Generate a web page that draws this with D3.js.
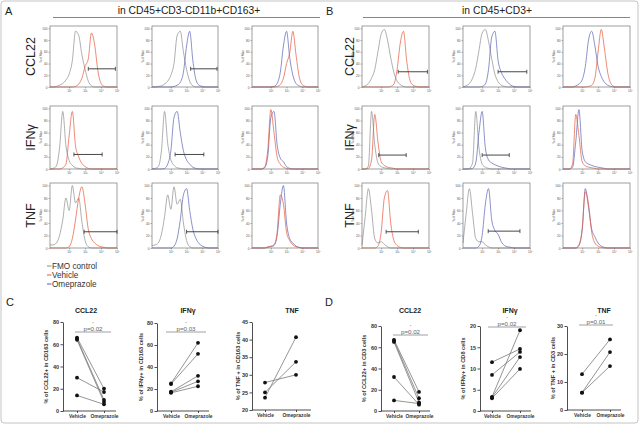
<!DOCTYPE html>
<html>
<head>
<meta charset="utf-8">
<script src="https://cdn.jsdelivr.net/npm/d3@7"></script>
<style>
  body { margin: 0; background: #fff; }
  svg { display: block; font-family: Arial, "Liberation Sans", sans-serif; }
</style>
</head>
<body>
<script>
// flow histograms: % of max sampled on a log10 grid
const HIST_X = [0.8, 1.0, 1.2, 1.4, 1.6, 1.8, 2.0, 2.2, 2.4, 2.6, 2.8, 3.0, 3.2, 3.4, 3.6, 3.8, 4.0, 4.2, 4.4, 4.6, 4.8, 5.0]
const HIST_TICKS = [2, 3, 4, 5]
const MAX_TICKS = [0, 20, 40, 60, 80, 100]
const ROW_LABELS = ['CCL22', 'IFNγ', 'TNF']

// A: CD45+CD3-CD11b+CD163+
const A_CCL22_1_FMO = [0,0,1,3,6,12,22,45,95,88,55,30,10,2,0,0,0,0,0,0,0,0]
const A_CCL22_1_VEH = [0,0,0,0,0,0,0,0,1,5,15,35,48,92,72,28,6,1,0,0,0,0]
const A_CCL22_2_FMO = [0,0,1,2,5,10,20,40,88,95,60,30,10,2,0,0,0,0,0,0,0,0]
const A_CCL22_2_OME = [0,0,0,0,0,0,0,1,3,8,25,70,95,45,12,3,1,0,0,0,0,0]
const A_CCL22_3_VEH = [0,0,0,0,0,0,0,0,1,4,15,40,58,95,55,18,4,1,0,0,0,0]
const A_CCL22_3_OME = [0,0,0,0,0,0,0,1,6,25,70,95,50,20,6,2,0,0,0,0,0,0]
const A_CCL22_GATES = [[3.2, 4.9, 31], [3.26, 4.94, 31]]

const A_IFNG_1_FMO = [0,1,5,35,95,38,14,6,2,1,0,0,0,0,0,0,0,0,0,0,0,0]
const A_IFNG_1_VEH = [0,0,0,0,2,8,55,95,38,20,9,4,1,0,0,0,0,0,0,0,0,0]
const A_IFNG_2_FMO = [0,1,4,30,95,42,15,6,2,1,0,0,0,0,0,0,0,0,0,0,0,0]
const A_IFNG_2_OME = [0,0,0,0,1,8,30,85,95,60,30,15,8,3,1,0,0,0,0,0,0,0]
const A_IFNG_3_VEH = [0,0,0,0,3,30,98,60,20,8,3,1,0,0,0,0,0,0,0,0,0,0]
const A_IFNG_3_OME = [0,0,0,0,2,20,85,95,40,18,12,4,1,0,0,0,0,0,0,0,0,0]
const A_IFNG_GATES = [[2.3, 4.07, 24], [2.27, 4.1, 24]]

const A_TNF_1_FMO = [5,5,8,20,45,80,60,100,72,80,42,12,2,0,0,0,0,0,0,0,0,0]
const A_TNF_1_VEH = [0,0,0,0,0,0,2,15,45,80,98,70,30,15,8,4,2,1,0,0,0,0]
const A_TNF_2_FMO = [4,5,8,22,50,85,62,98,70,78,40,12,2,0,0,0,0,0,0,0,0,0]
const A_TNF_2_OME = [0,0,0,0,0,0,0,3,15,45,85,95,60,30,15,7,3,1,0,0,0,0]
const A_TNF_3_VEH = [0,0,0,0,0,2,3,5,25,85,70,25,12,5,2,1,0,0,0,0,0,0]
const A_TNF_3_OME = [0,0,0,0,0,1,2,4,20,70,100,40,15,8,3,1,0,0,0,0,0,0]
const A_TNF_GATES = [[2.94, 5.0, 26], [3.0, 5.0, 26]]

// B: CD45+CD3+
const B_CCL22_1_FMO = [0,2,6,15,30,60,90,98,80,50,25,10,4,1,0,0,0,0,0,0,0,0]
const B_CCL22_1_VEH = [0,0,0,0,0,0,0,0,0,1,5,30,75,95,45,12,3,1,0,0,0,0]
const B_CCL22_2_FMO = [0,2,6,15,32,62,92,98,78,48,22,9,3,1,0,0,0,0,0,0,0,0]
const B_CCL22_2_OME = [0,0,0,0,0,0,1,5,30,85,95,45,25,15,8,3,1,0,0,0,0,0]
const B_CCL22_3_VEH = [0,0,0,0,0,0,0,0,1,3,15,60,98,65,25,6,1,0,0,0,0,0]
const B_CCL22_3_OME = [0,0,0,0,2,5,12,35,80,95,70,35,18,8,3,1,0,0,0,0,0,0]
const B_CCL22_GATES = [[3.07, 4.9, 26], [3.0, 4.8, 26]]

const B_IFNG_1_FMO = [0,0,5,95,40,10,4,2,1,0,0,0,0,0,0,0,0,0,0,0,0,0]
const B_IFNG_1_VEH = [0,0,1,15,90,45,12,6,3,2,1,0,0,0,0,0,0,0,0,0,0,0]
const B_IFNG_2_FMO = [0,0,1,10,95,35,8,3,1,0,0,0,0,0,0,0,0,0,0,0,0,0]
const B_IFNG_2_OME = [0,0,0,1,10,60,95,35,15,10,7,5,3,2,1,0,0,0,0,0,0,0]
const B_IFNG_3_VEH = [0,0,0,8,90,55,12,5,3,2,1,0,0,0,0,0,0,0,0,0,0,0]
const B_IFNG_3_OME = [0,0,0,3,45,98,30,12,8,6,4,3,2,1,0,0,0,0,0,0,0,0]
const B_IFNG_GATES = [[1.85, 3.57, 23], [2.0, 3.7, 23]]

const B_TNF_1_FMO = [5,50,95,60,15,8,10,6,2,0,0,0,0,0,0,0,0,0,0,0,0,0]
const B_TNF_1_VEH = [0,0,0,0,0,3,25,80,92,40,12,4,1,0,0,0,0,0,0,0,0,0]
const B_TNF_2_FMO = [8,55,95,55,15,10,10,5,2,0,0,0,0,0,0,0,0,0,0,0,0,0]
const B_TNF_2_OME = [0,0,0,0,0,3,20,70,95,45,28,22,10,4,2,1,0,0,0,0,0,0]
const B_TNF_3_VEH = [0,0,0,0,0,5,30,90,70,25,8,3,1,0,0,0,0,0,0,0,0,0]
const B_TNF_3_OME = [0,0,0,0,0,4,28,95,65,30,18,8,3,1,0,0,0,0,0,0,0,0]
const B_TNF_GATES = [[2.31, 4.33, 26], [2.38, 4.37, 27]]

// paired dot plots (C: CD163 cells, D: CD3/CD8 cells)
const GROUPS = ['Vehicle', 'Omeprazole']
const C_CCL22_VEH = [66, 65, 64, 30, 14]
const C_CCL22_OME = [20, 10, 8, 17, 6]
const C_IFNG_VEH = [25, 24.5, 17.5, 17, 16.5]
const C_IFNG_OME = [62, 52, 32, 27, 22.5]
const C_TNF_VEH = [27.8, 25, 23.5]
const C_TNF_OME = [30, 33.7, 40.7]
const D_CCL22_VEH = [67, 66, 65, 32, 10]
const D_CCL22_OME = [18, 12, 8, 6, 7]
const D_IFNG_VEH = [11.5, 8.5, 3.3, 3.2, 3.0]
const D_IFNG_OME = [14.6, 13.9, 19, 12.7, 9.9]
const D_TNF_VEH = [12.8, 6.2, 6.2]
const D_TNF_OME = [25.2, 20.7, 15.7]

const FMO = '#8c8c8c'
const VEH = '#e5583a'
const OME = '#5a62b4'

const WIDTH = 640
const HEIGHT = 427

const svg = d3.select('body')
  .append('svg')
  .attr('width', WIDTH)
  .attr('height', HEIGHT)

svg.append('rect')
  .attr('x', 1).attr('y', 1)
  .attr('width', 637).attr('height', 422)
  .attr('rx', 3)
  .attr('fill', 'none')
  .attr('stroke', '#c4c4c4')

function letter(t, x, y) {
  svg.append('text').attr('x', x).attr('y', y)
    .attr('font-size', 11).attr('fill', '#222').text(t)
}

letter('A', 5, 15)
letter('B', 326, 15)
letter('C', 6, 306)
letter('D', 325, 306)

// section headers
const headers = [
  { text: 'in CD45+CD3-CD11b+CD163+', cx: 189, x0: 53, x1: 320 },
  { text: 'in CD45+CD3+', cx: 497, x0: 363, x1: 630 },
]
headers.forEach(h => {
  svg.append('text').attr('x', h.cx).attr('y', 14)
    .attr('text-anchor', 'middle').attr('font-size', 10.3).attr('fill', '#222')
    .text(h.text)
  svg.append('line').attr('x1', h.x0).attr('x2', h.x1).attr('y1', 17.5).attr('y2', 17.5)
    .attr('stroke', '#666').attr('stroke-width', 0.8)
})

const ROW_Y = [[26, 87], [106, 169], [183, 248]]
const COLS_A = [[50, 117], [152, 218], [252, 318]]
const COLS_B = [[362, 429], [463, 530], [563, 630]]

const sections = [
  {
    cols: COLS_A, labelX: 30,
    rows: [
      { p: [[A_CCL22_1_FMO, FMO, A_CCL22_1_VEH, VEH], [A_CCL22_2_FMO, FMO, A_CCL22_2_OME, OME], [A_CCL22_3_OME, OME, A_CCL22_3_VEH, VEH]], gates: A_CCL22_GATES },
      { p: [[A_IFNG_1_FMO, FMO, A_IFNG_1_VEH, VEH], [A_IFNG_2_FMO, FMO, A_IFNG_2_OME, OME], [A_IFNG_3_OME, OME, A_IFNG_3_VEH, VEH]], gates: A_IFNG_GATES },
      { p: [[A_TNF_1_FMO, FMO, A_TNF_1_VEH, VEH], [A_TNF_2_FMO, FMO, A_TNF_2_OME, OME], [A_TNF_3_OME, OME, A_TNF_3_VEH, VEH]], gates: A_TNF_GATES },
    ]
  },
  {
    cols: COLS_B, labelX: 349,
    rows: [
      { p: [[B_CCL22_1_FMO, FMO, B_CCL22_1_VEH, VEH], [B_CCL22_2_FMO, FMO, B_CCL22_2_OME, OME], [B_CCL22_3_OME, OME, B_CCL22_3_VEH, VEH]], gates: B_CCL22_GATES },
      { p: [[B_IFNG_1_FMO, FMO, B_IFNG_1_VEH, VEH], [B_IFNG_2_FMO, FMO, B_IFNG_2_OME, OME], [B_IFNG_3_OME, OME, B_IFNG_3_VEH, VEH]], gates: B_IFNG_GATES },
      { p: [[B_TNF_1_FMO, FMO, B_TNF_1_VEH, VEH], [B_TNF_2_FMO, FMO, B_TNF_2_OME, OME], [B_TNF_3_OME, OME, B_TNF_3_VEH, VEH]], gates: B_TNF_GATES },
    ]
  },
]

const SUP = { 2: '²', 3: '³', 4: '⁴', 5: '⁵' }

function drawHist(x0, x1, y0, y1, curves, gate) {
  const g = svg.append('g')
  const x = d3.scaleLinear().domain([0.8, 5]).range([x0, x1])
  const y = d3.scaleLinear().domain([0, 104]).range([y1, y0])

  const line = d3.line()
    .x((d, i) => x(HIST_X[i]))
    .y(d => y(d))
    .curve(d3.curveMonotoneX)

  g.append('path').attr('d', line(curves[0]))
    .attr('fill', 'none').attr('stroke', curves[1]).attr('stroke-width', 0.7)
  g.append('path').attr('d', line(curves[2]))
    .attr('fill', 'none').attr('stroke', curves[3]).attr('stroke-width', 0.7)

  g.append('rect')
    .attr('x', x0).attr('y', y0)
    .attr('width', x1 - x0).attr('height', y1 - y0)
    .attr('fill', 'none').attr('stroke', '#777').attr('stroke-width', 0.7)

  const yAxis = g.append('g')
    .attr('transform', `translate(${x0},0)`)
    .call(d3.axisLeft(y).tickValues(MAX_TICKS).tickSize(1.5).tickPadding(1))
  const xAxis = g.append('g')
    .attr('transform', `translate(0,${y1})`)
    .call(d3.axisBottom(x).tickValues(HIST_TICKS).tickSize(1.5).tickPadding(1)
      .tickFormat(d => '10' + SUP[d]))
  ;[yAxis, xAxis].forEach(a => {
    a.select('.domain').remove()
    a.selectAll('line').attr('stroke', '#666').attr('stroke-width', 0.5)
    a.selectAll('text').attr('font-size', 3.2).attr('fill', '#555')
  })

  g.append('text')
    .attr('transform', `translate(${x0 - 8},${(y0 + y1) / 2}) rotate(-90)`)
    .attr('text-anchor', 'middle').attr('font-size', 3).attr('fill', '#555')
    .text('% of Max')

  if (gate) {
    const gy = y(gate[2])
    g.append('line')
      .attr('x1', x(gate[0])).attr('x2', x(gate[1]))
      .attr('y1', gy).attr('y2', gy)
      .attr('stroke', '#333').attr('stroke-width', 0.9)
    ;[gate[0], gate[1]].forEach(v => {
      g.append('line')
        .attr('x1', x(v)).attr('x2', x(v))
        .attr('y1', gy - 2).attr('y2', gy + 2)
        .attr('stroke', '#333').attr('stroke-width', 0.8)
    })
  }
}

sections.forEach(sec => {
  sec.rows.forEach((row, ri) => {
    const [y0, y1] = ROW_Y[ri]
    svg.append('text')
      .attr('transform', `translate(${sec.labelX + 5},${(y0 + y1) / 2}) rotate(-90)`)
      .attr('text-anchor', 'middle').attr('font-size', 12.5).attr('fill', '#222')
      .text(ROW_LABELS[ri])
    row.p.forEach((curves, ci) => {
      const [x0, x1] = sec.cols[ci]
      drawHist(x0, x1, y0, y1, curves, row.gates[ci])
    })
  })
})

// legend
const legend = [['FMO control', FMO], ['Vehicle', VEH], ['Omeprazole', OME]]
legend.forEach((d, i) => {
  const ly = 266 + i * 9
  svg.append('line').attr('x1', 47).attr('x2', 51.5).attr('y1', ly).attr('y2', ly)
    .attr('stroke', d[1]).attr('stroke-width', 1)
  svg.append('text').attr('x', 52).attr('y', ly + 3)
    .attr('font-size', 8.2).attr('fill', '#333').text(d[0])
})

// paired dot plots
const plots = [
  { title: 'CCL22', tx: 86, label: '% of CCL22+ in CD163 cells', veh: C_CCL22_VEH, ome: C_CCL22_OME,
    dom: [0, 80], ticks: [0, 20, 40, 60, 80], ax: 63, xEnd: 116, xv: 77, xo: 104, yb: 411, yt: 322, lx: 48,
    sig: { text: 'p=0.02', x0: 75, x1: 111, y: 332 } },
  { title: 'IFNγ', tx: 188, label: '% of IFNγ+ in CD163 cells', veh: C_IFNG_VEH, ome: C_IFNG_OME,
    dom: [0, 80], ticks: [0, 20, 40, 60, 80], ax: 157, xEnd: 209, xv: 171, xo: 198, yb: 411, yt: 323, lx: 143,
    sig: { text: 'p=0.03', x0: 166, x1: 206, y: 332 } },
  { title: 'TNF', tx: 292, label: '% of TNF + in CD163 cells', veh: C_TNF_VEH, ome: C_TNF_OME,
    dom: [20, 45], ticks: [20, 25, 30, 35, 40, 45], ax: 252, xEnd: 311, xv: 265, xo: 296, yb: 410, yt: 322, lx: 240 },
  { title: 'CCL22', tx: 410, label: '% of CCL22+ in CD3 cells', veh: D_CCL22_VEH, ome: D_CCL22_OME,
    dom: [0, 80], ticks: [0, 20, 40, 60, 80], ax: 381, xEnd: 430, xv: 394, xo: 419, yb: 411, yt: 326, lx: 366,
    sig: { text: 'p=0.02', x0: 393, x1: 428, y: 335 } },
  { title: 'IFNγ', tx: 510, label: '% of IFNγ+ in CD8 cells', veh: D_IFNG_VEH, ome: D_IFNG_OME,
    dom: [0, 20], ticks: [0, 5, 10, 15, 20], ax: 480, xEnd: 531, xv: 492, xo: 520, yb: 411, yt: 326, lx: 465,
    sig: { text: 'p=0.02', x0: 488, x1: 526, y: 327 } },
  { title: 'TNF', tx: 604, label: '% of TNF + in CD3 cells', veh: D_TNF_VEH, ome: D_TNF_OME,
    dom: [0, 30], ticks: [0, 10, 20, 30], ax: 567, xEnd: 621, xv: 582, xo: 610, yb: 410, yt: 326, lx: 555,
    sig: { text: 'p=0.01', x0: 579, x1: 613, y: 325 } },
]

plots.forEach(p => {
  const g = svg.append('g')
  const y = d3.scaleLinear().domain(p.dom).range([p.yb, p.yt])
  const x = d3.scalePoint().domain(GROUPS).range([p.xv, p.xo])

  g.append('text')
    .attr('x', p.tx).attr('y', 313)
    .attr('text-anchor', 'middle').attr('font-size', 7).attr('font-weight', 'bold').attr('fill', '#222')
    .text(p.title)

  const yAxis = g.append('g')
    .attr('transform', `translate(${p.ax},0)`)
    .call(d3.axisLeft(y).tickValues(p.ticks).tickSize(2.5).tickSizeOuter(0).tickPadding(1.5))
  yAxis.select('.domain').attr('stroke', '#222').attr('stroke-width', 0.8)
  yAxis.selectAll('line').attr('stroke', '#222').attr('stroke-width', 0.8)
  yAxis.selectAll('text').attr('font-size', 5.5).attr('font-weight', 'bold').attr('fill', '#333')

  g.append('line')
    .attr('x1', p.ax).attr('x2', p.xEnd).attr('y1', p.yb).attr('y2', p.yb)
    .attr('stroke', '#222').attr('stroke-width', 0.8)
  const xAxis = g.append('g')
    .attr('transform', `translate(0,${p.yb})`)
    .call(d3.axisBottom(x).tickSize(2).tickPadding(2))
  xAxis.select('.domain').remove()
  xAxis.selectAll('line').attr('stroke', '#222').attr('stroke-width', 0.8)
  xAxis.selectAll('text').attr('font-size', 4.9).attr('font-weight', 'bold').attr('fill', '#333')

  g.append('text')
    .attr('transform', `translate(${p.lx},${(p.yb + p.yt) / 2}) rotate(-90)`)
    .attr('text-anchor', 'middle').attr('font-size', 5.6).attr('font-weight', 'bold').attr('fill', '#333')
    .text(p.label)

  // paired lines then points
  p.veh.forEach((v, i) => {
    g.append('line')
      .attr('x1', x('Vehicle')).attr('y1', y(v))
      .attr('x2', x('Omeprazole')).attr('y2', y(p.ome[i]))
      .attr('stroke', '#7a7a7a').attr('stroke-width', 0.8)
  })
  const pts = p.veh.map(v => ['Vehicle', v]).concat(p.ome.map(v => ['Omeprazole', v]))
  g.selectAll('circle').data(pts).enter().append('circle')
    .attr('cx', d => x(d[0])).attr('cy', d => y(d[1]))
    .attr('r', 1.9).attr('fill', '#111')

  if (p.sig) {
    const s = p.sig
    const cx = (s.x0 + s.x1) / 2
    g.append('line').attr('x1', s.x0).attr('x2', s.x1).attr('y1', s.y).attr('y2', s.y)
      .attr('stroke', '#888').attr('stroke-width', 0.8)
    g.append('text').attr('x', cx).attr('y', s.y - 1.5)
      .attr('text-anchor', 'middle').attr('font-size', 6.2).attr('fill', '#666').text(s.text)
    g.append('text').attr('x', cx).attr('y', s.y - 7.2)
      .attr('text-anchor', 'middle').attr('font-size', 4).attr('fill', '#666').text('*')
  }
})
</script>
</body>
</html>
